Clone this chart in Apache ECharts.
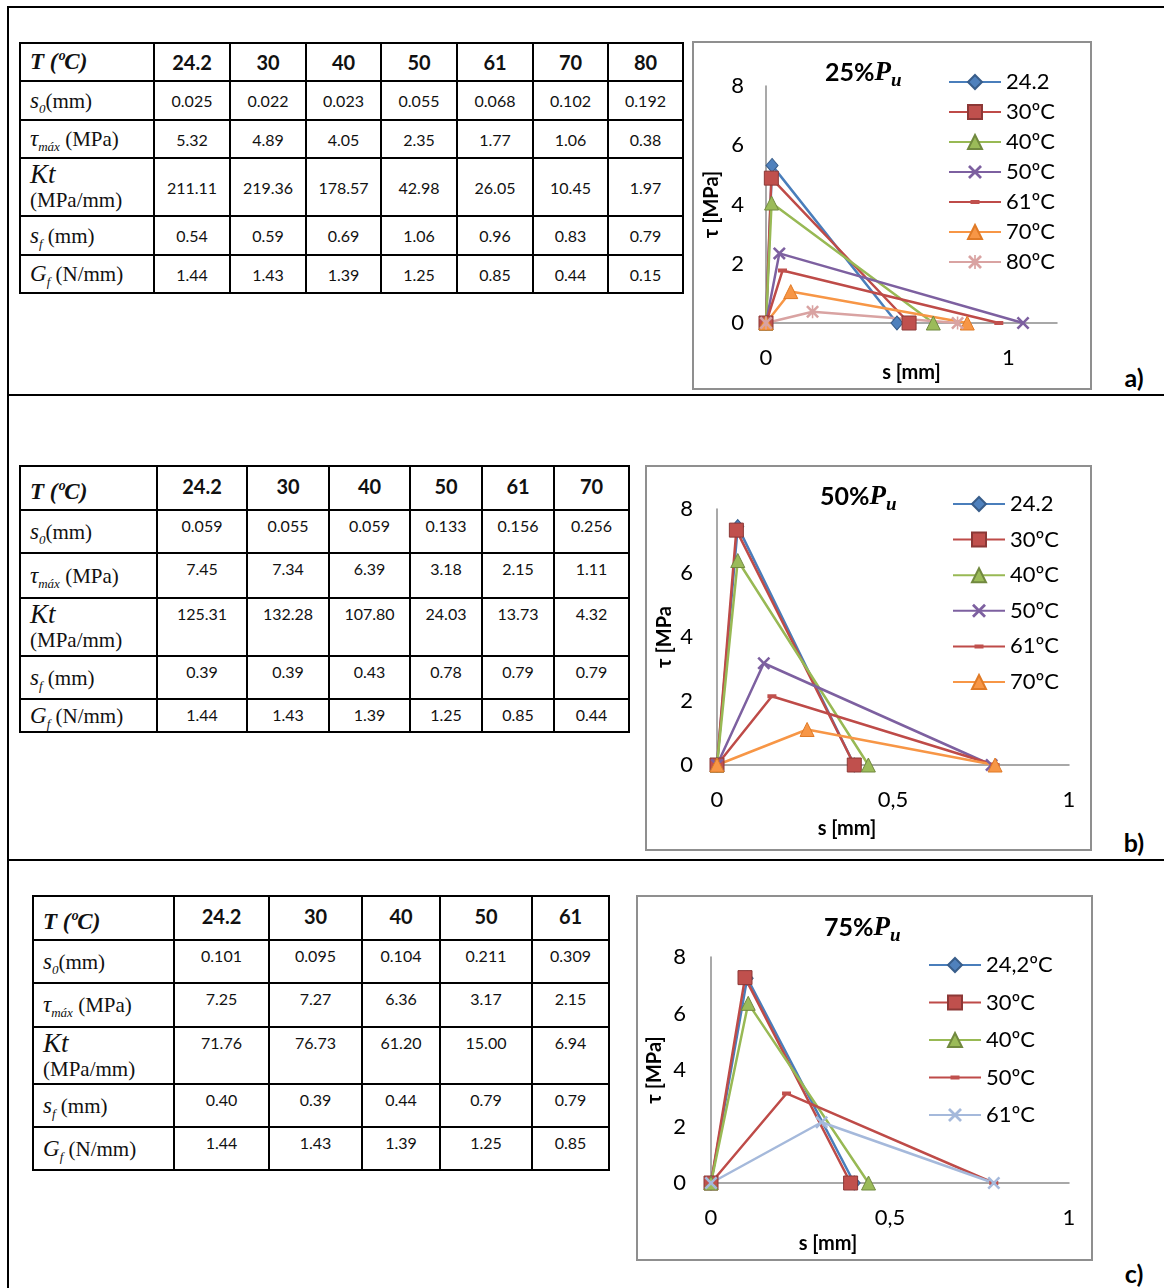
<!DOCTYPE html>
<html>
<head>
<meta charset="utf-8">
<script src="https://cdn.jsdelivr.net/npm/echarts@6/dist/echarts.min.js"></script>
<style>
  body { margin: 0; background: #fff; }
  #page { position: relative; width: 1164px; height: 1288px; overflow: hidden; background: #fff; }
  .hl { position: absolute; height: 2px; background: #000; }
  .vl { position: absolute; width: 2px; background: #000; }
  .frame { position: absolute; border: 2px solid #8f8f8f; box-sizing: border-box; }
  .chart { position: absolute; }
  .tag { position: absolute; font-family: Lato, sans-serif; font-weight: bold; font-size: 25px; color: #000; transform: translate(-50%, -50%); }
  table { position: absolute; border-collapse: collapse; table-layout: fixed; }
  td { border: 2px solid #000; padding: 0; text-align: center; font-family: Lato, sans-serif; font-size: 16px; color: #111; box-sizing: border-box; }
  td.lab { text-align: left; padding-left: 9px; font-family: "Liberation Serif", serif; font-size: 21px; line-height: 24px; vertical-align: middle; }
  td.lab i { font-size: 23px; }
  td.lab sub { font-size: 13px; line-height: 0; }
  td.lab sub i { font-size: 13px; }
  td.lab .tt { font-size: 20px; font-weight: bold; }
  td.lab .kt { font-size: 27px; }
  tr.hd td { font-weight: bold; font-size: 20px; }
  table.top td { vertical-align: top; padding-top: 5px; }
  table.top td.lab { vertical-align: middle; padding-top: 0; }
  table.top tr.hd td { padding-top: 7px; }
</style>
</head>
<body>
<div id="page">
  <div class="vl" style="left:7px;top:6px;height:1282px"></div>
  <div class="hl" style="left:7px;top:6px;width:1157px"></div>
  <div class="hl" style="left:7px;top:394px;width:1157px"></div>
  <div class="hl" style="left:7px;top:859px;width:1157px"></div>

  <div id="chartA" class="chart" style="left:692px;top:41px;width:400px;height:349px"></div>
  <div id="chartB" class="chart" style="left:645px;top:465px;width:447px;height:386px"></div>
  <div id="chartC" class="chart" style="left:636px;top:895px;width:457px;height:366px"></div>
  <div class="frame" style="left:692px;top:41px;width:400px;height:349px"></div>
  <div class="frame" style="left:645px;top:465px;width:447px;height:386px"></div>
  <div class="frame" style="left:636px;top:895px;width:457px;height:366px"></div>

  <div class="tag" style="left:1134px;top:377px">a)</div>
  <div class="tag" style="left:1134px;top:842px">b)</div>
  <div class="tag" style="left:1134px;top:1273px">c)</div>
</div>
<script>
// ---- 25% Pu ----
const tempsA = ["24.2", "30", "40", "50", "61", "70", "80"];
const namesA = ["24.2", "30ºC", "40ºC", "50ºC", "61ºC", "70ºC", "80ºC"];
const s0A = [0.025, 0.022, 0.023, 0.055, 0.068, 0.102, 0.192];
const tauA = [5.32, 4.89, 4.05, 2.35, 1.77, 1.06, 0.38];
const ktA = [211.11, 219.36, 178.57, 42.98, 26.05, 10.45, 1.97];
const sfA = [0.54, 0.59, 0.69, 1.06, 0.96, 0.83, 0.79];
const gfA = [1.44, 1.43, 1.39, 1.25, 0.85, 0.44, 0.15];

// ---- 50% Pu ----
const tempsB = ["24.2", "30", "40", "50", "61", "70"];
const namesB = ["24.2", "30ºC", "40ºC", "50ºC", "61ºC", "70ºC"];
const s0B = [0.059, 0.055, 0.059, 0.133, 0.156, 0.256];
const tauB = [7.45, 7.34, 6.39, 3.18, 2.15, 1.11];
const ktB = [125.31, 132.28, 107.80, 24.03, 13.73, 4.32];
const sfB = [0.39, 0.39, 0.43, 0.78, 0.79, 0.79];
const gfB = [1.44, 1.43, 1.39, 1.25, 0.85, 0.44];

// ---- 75% Pu ----
const tempsC = ["24.2", "30", "40", "50", "61"];
const namesC = ["24,2ºC", "30ºC", "40ºC", "50ºC", "61ºC"];
const s0C = [0.101, 0.095, 0.104, 0.211, 0.309];
const tauC = [7.25, 7.27, 6.36, 3.17, 2.15];
const ktC = [71.76, 76.73, 61.20, 15.00, 6.94];
const sfC = [0.40, 0.39, 0.44, 0.79, 0.79];
const gfC = [1.44, 1.43, 1.39, 1.25, 0.85];

const X_PATH = "path://M1.4,0 L5,3.6 L8.6,0 L10,1.4 L6.4,5 L10,8.6 L8.6,10 L5,6.4 L1.4,10 L0,8.6 L3.6,5 L0,1.4 Z";
const STAR_PATH = "path://M1.4,0 L5,3.6 L8.6,0 L10,1.4 L6.4,5 L10,8.6 L8.6,10 L5,6.4 L1.4,10 L0,8.6 L3.6,5 L0,1.4 Z M4.4,0 L5.6,0 L5.6,10 L4.4,10 Z";
// short bar inside an invisible 14x14 box so legend and plot keep the dash shape
const DASH_PATH = "path://M0,0 L0.01,0 L0,0.01 Z M14,14 L13.99,14 L14,13.99 Z M2.5,5 L11.5,5 L11.5,9 L2.5,9 Z";

// marker styles (Excel 2007 look)
const STY = {
  blue:   { line: "#4A7EBB", fill: "#4F81BD", border: "#385D8A", bw: 1, symbol: "diamond", size: [12, 14] },
  red:    { line: "#BE4B48", fill: "#C0504D", border: "#8C3836", bw: 1, symbol: "rect", size: 14 },
  green:  { line: "#98B954", fill: "#9BBB59", border: "#71893F", bw: 1, symbol: "triangle", size: 14 },
  purple: { line: "#7D60A0", fill: "#7D60A0", border: "#7D60A0", bw: 0, symbol: X_PATH, size: 13 },
  dash:   { line: "#BE4B48", fill: "#C0504D", border: "#C0504D", bw: 0, symbol: DASH_PATH, size: 14 },
  orange: { line: "#F79646", fill: "#F79646", border: "#E07A26", bw: 1, symbol: "triangle", size: 14 },
  pink:   { line: "#D9A3A2", fill: "#D9A3A2", border: "#D9A3A2", bw: 0, symbol: STAR_PATH, size: 13 },
  light:  { line: "#A5B9DB", fill: "#A5B9DB", border: "#A5B9DB", bw: 0, symbol: X_PATH, size: 13 }
};

function buildTable(cfg) {
  const t = document.createElement("table");
  if (cfg.top) t.className = "top";
  t.style.left = cfg.left + "px";
  t.style.top = cfg.y + "px";
  t.style.width = cfg.cols.reduce((a, b) => a + b, 0) + "px";
  let html = "<colgroup>" + cfg.cols.map(w => '<col style="width:' + w + 'px">').join("") + "</colgroup>";
  const labels = [
    '<span class="tt"><i>T (ºC)</i></span>',
    '<i>s</i><sub><i>0</i></sub>(mm)',
    '<i>τ</i><sub><i>máx</i></sub> (MPa)',
    '<i class="kt">Kt</i><br>(MPa/mm)',
    '<i>s</i><sub><i>f</i></sub> (mm)',
    '<i>G</i><sub><i>f</i></sub> (N/mm)'
  ];
  const rows = [
    cfg.temps,
    cfg.s0.map(v => v.toFixed(3)),
    cfg.tau.map(v => v.toFixed(2)),
    cfg.kt.map(v => v.toFixed(2)),
    cfg.sf.map(v => v.toFixed(2)),
    cfg.gf.map(v => v.toFixed(2))
  ];
  rows.forEach((r, i) => {
    html += '<tr' + (i === 0 ? ' class="hd"' : '') + ' style="height:' + cfg.rows[i] + 'px">';
    html += '<td class="lab">' + labels[i] + '</td>';
    html += r.map(v => "<td>" + v + "</td>").join("");
    html += "</tr>";
  });
  t.innerHTML = html;
  document.getElementById("page").appendChild(t);
}

buildTable({ left: 19, y: 42, cols: [134, 76, 76, 75, 76, 76, 75, 75], rows: [38, 39, 38, 58, 39, 38],
  temps: tempsA, s0: s0A, tau: tauA, kt: ktA, sf: sfA, gf: gfA });
buildTable({ left: 19, y: 465, top: true, cols: [137, 90, 82, 81, 72, 72, 75], rows: [44, 43, 45, 58, 43, 33],
  temps: tempsB, s0: s0B, tau: tauB, kt: ktB, sf: sfB, gf: gfB });
buildTable({ left: 32, y: 895, top: true, cols: [141, 95, 93, 78, 92, 77], rows: [44, 43, 44, 57, 43, 43],
  temps: tempsC, s0: s0C, tau: tauC, kt: ktC, sf: sfC, gf: gfC });

const AXIS_FONT = "Lato, sans-serif";

function makeChart(el, cfg) {
  const chart = echarts.init(document.getElementById(el));
  const series = cfg.names.map((name, i) => {
    const st = STY[cfg.styles[i]];
    return {
      name: name,
      type: "line",
      data: [[0, 0], [cfg.s0[i], cfg.tau[i]], [cfg.sf[i], 0]],
      symbol: st.symbol,
      symbolSize: st.size,
      showAllSymbol: true,
      lineStyle: { color: st.line, width: 2.5 },
      itemStyle: { color: st.fill, borderColor: st.border, borderWidth: st.bw },
      animation: false
    };
  });
  chart.setOption({
    animation: false,
    title: {
      text: "{a|" + cfg.title + "}{p|P}{u|u}",
      left: cfg.titleX,
      top: cfg.titleY,
      padding: 0,
      textStyle: {
        rich: {
          a: { fontFamily: AXIS_FONT, fontWeight: "bold", fontSize: 25, color: "#000", lineHeight: 36, verticalAlign: "middle" },
          p: { fontFamily: "Liberation Serif", fontStyle: "italic", fontWeight: "bold", fontSize: 27, color: "#000", lineHeight: 36, verticalAlign: "middle" },
          u: { fontFamily: "Liberation Serif", fontStyle: "italic", fontWeight: "bold", fontSize: 19, color: "#000", lineHeight: 36, verticalAlign: "bottom" }
        }
      }
    },
    legend: {
      orient: "vertical",
      left: cfg.legend[0],
      top: cfg.legend[1],
      padding: 0,
      itemWidth: 52,
      itemHeight: 17.5,
      itemGap: cfg.legend[2],
      data: cfg.names,
      textStyle: { fontFamily: AXIS_FONT, fontSize: 22, color: "#000", lineHeight: 24 },
      selectedMode: false
    },
    grid: { left: cfg.grid[0], top: cfg.grid[1], width: cfg.grid[2], height: cfg.grid[3], containLabel: false, outerBoundsMode: "none" },
    xAxis: {
      type: "value",
      min: 0,
      max: cfg.xMax,
      interval: cfg.xInterval,
      name: "s [mm]",
      nameLocation: "middle",
      nameGap: cfg.xNameGap,
      nameMoveOverlap: false,
      nameTextStyle: { fontFamily: AXIS_FONT, fontWeight: "bold", fontSize: 20, color: "#000", padding: [0, cfg.xNameShift, 0, 0] },
      axisLine: { show: true, lineStyle: { color: "#8c8c8c", width: 1.5 } },
      axisTick: { show: false },
      splitLine: { show: false },
      axisLabel: {
        fontFamily: AXIS_FONT, fontSize: 22, color: "#000", margin: 24,
        showMaxLabel: cfg.showMax,
        formatter: v => String(v).replace(".", ",")
      }
    },
    yAxis: {
      type: "value",
      min: 0,
      max: 8,
      interval: 2,
      name: cfg.yName,
      nameLocation: "middle",
      nameGap: cfg.yNameGap,
      nameRotate: 90,
      nameMoveOverlap: false,
      nameTextStyle: { fontFamily: AXIS_FONT, fontWeight: "bold", fontSize: 20, color: "#000" },
      axisLine: { show: true, lineStyle: { color: "#8c8c8c", width: 1.5 } },
      axisTick: { show: false },
      splitLine: { show: false },
      axisLabel: { fontFamily: AXIS_FONT, fontSize: 22, color: "#000", margin: cfg.yLabelMargin }
    },
    series: series
  });
  return chart;
}

makeChart("chartA", {
  names: namesA, s0: s0A, tau: tauA, sf: sfA,
  styles: ["blue", "red", "green", "purple", "dash", "orange", "pink"],
  title: "25%", titleX: 133, titleY: 14,
  legend: [256, 29, 6],
  grid: [74, 45, 291, 237],
  xMax: 1.2, xInterval: 1, showMax: false, xNameGap: 40, xNameShift: 0,
  yName: "τ [MPa]", yNameGap: 44, yLabelMargin: 22
});
makeChart("chartB", {
  names: namesB, s0: s0B, tau: tauB, sf: sfB,
  styles: ["blue", "red", "green", "purple", "dash", "orange"],
  title: "50%", titleX: 175, titleY: 14,
  legend: [307, 27, 11.6],
  grid: [72, 44, 352, 256],
  xMax: 1, xInterval: 0.5, showMax: true, xNameGap: 54, xNameShift: 92,
  yName: "τ [MPa", yNameGap: 42, yLabelMargin: 24
});
makeChart("chartC", {
  names: namesC, s0: s0C, tau: tauC, sf: sfC,
  styles: ["blue", "red", "green", "dash", "light"],
  title: "75%", titleX: 188, titleY: 15,
  legend: [292, 58, 13.5],
  grid: [75, 62, 358, 226],
  xMax: 1, xInterval: 0.5, showMax: true, xNameGap: 51, xNameShift: 124,
  yName: "τ [MPa]", yNameGap: 46, yLabelMargin: 25
});
</script>
</body>
</html>
